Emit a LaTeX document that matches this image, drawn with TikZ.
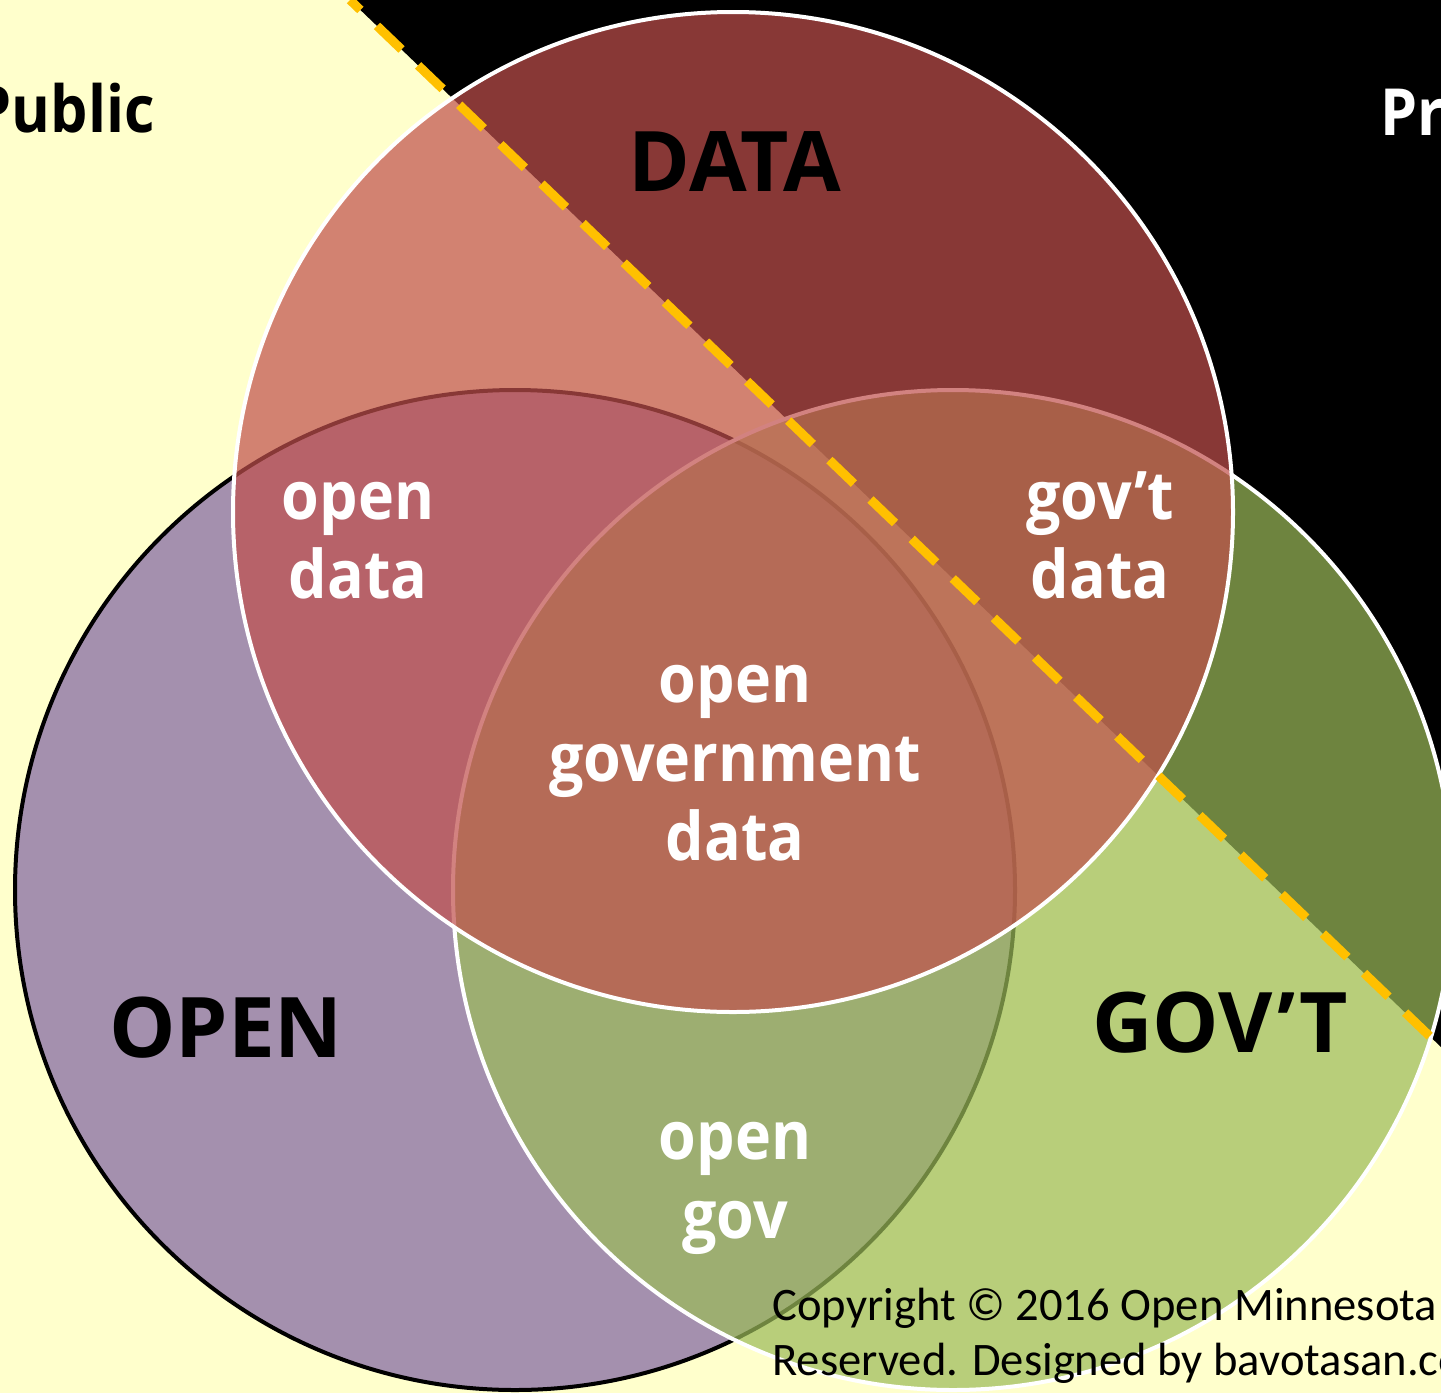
\documentclass[tikz,border=0pt]{standalone}
\usepackage{fontspec}
\setmainfont{Open Sans}
\newfontfamily\overlapfont{Open Sans}[FakeStretch=0.91]
\newfontfamily\notefont{Carlito}
\usetikzlibrary{positioning}
\definecolor{bgyellow}{HTML}{FFFFCC}
\definecolor{datared}{HTML}{C0504D}
\definecolor{govgreen}{HTML}{9BBB59}
\definecolor{openpurple}{HTML}{8064A2}
\definecolor{cutorange}{HTML}{FFC000}

\begin{document}
\begin{tikzpicture}[
    x=0.5pt, y=-0.5pt,
    setcircle/.style={circle, minimum size=500pt, inner sep=0pt, line width=2pt, fill opacity=0.71},
    biglabel/.style={font=\fontsize{41.8}{41.8}\selectfont\bfseries, text=black, anchor=base, inner sep=0pt},
    sidelabel/.style={font=\overlapfont\fontsize{32.5}{32.5}\selectfont\bfseries, inner sep=0pt},
    overlap/.style={font=\overlapfont\fontsize{33.5}{39.5}\selectfont\bfseries, text=white, align=center, anchor=base, inner sep=0pt},
    notelabel/.style={font=\notefont\fontsize{23.3}{27.5}\selectfont, align=left, anchor=base west, inner sep=0pt},
    cutline/.style={cutorange, line width=4.5pt, dash pattern=on 17pt off 11.5pt, dash phase=9.8pt}
]
    % Canvas
    \useasboundingbox (0,0) rectangle (1441,1393);
    \clip (0,0) rectangle (1441,1393);
    \fill[bgyellow] (0,0) rectangle (1441,1393);

    % Private side
    \coordinate (cutA) at (350,0);
    \coordinate (cutB) at (1441,1047);
    \fill[black] (cutA) -- (1441,0) -- (cutB) -- cycle;

    % Circles
    \node[setcircle, fill=openpurple, draw=black] (open) at (515,890) {};
    \node[setcircle, fill=govgreen, draw=white] (gov) at (953,890) {};
    \node[setcircle, fill=datared, draw=white] (data) at (733,512) {};

    % Dividing line
    \draw[cutline] (cutA) -- (cutB);

    % Set names
    \node[biglabel] (datalabel) at (735,191) {DATA};
    \node[biglabel] (openlabel) at (226,1057) {OPEN};
    \node[biglabel] (govlabel) at (1220,1052) {GOV\kern2pt’\kern2pt T};
    \node[sidelabel, anchor=base east] (publiclabel) at (155,132) {Public};
    \node[sidelabel, anchor=base west, text=white] (privatelabel) at (1380,135) {Private};

    % Overlaps (base = last line)
    \node[overlap] (opendata) at (358,598) {open\\data};
    \node[overlap] (govdata) at (1100,598) {gov’t\\data};
    \node[overlap] (opengovdata) at (735,860) {open\\government\\data};
    \node[overlap] (opengov) at (735,1238) {open\\gov};

    % Footer
    \node[notelabel] (copyright) at (772,1375) {Copyright © 2016 Open Minnesota\\Reserved. Designed by bavotasan.com};
\end{tikzpicture}
\end{document}
